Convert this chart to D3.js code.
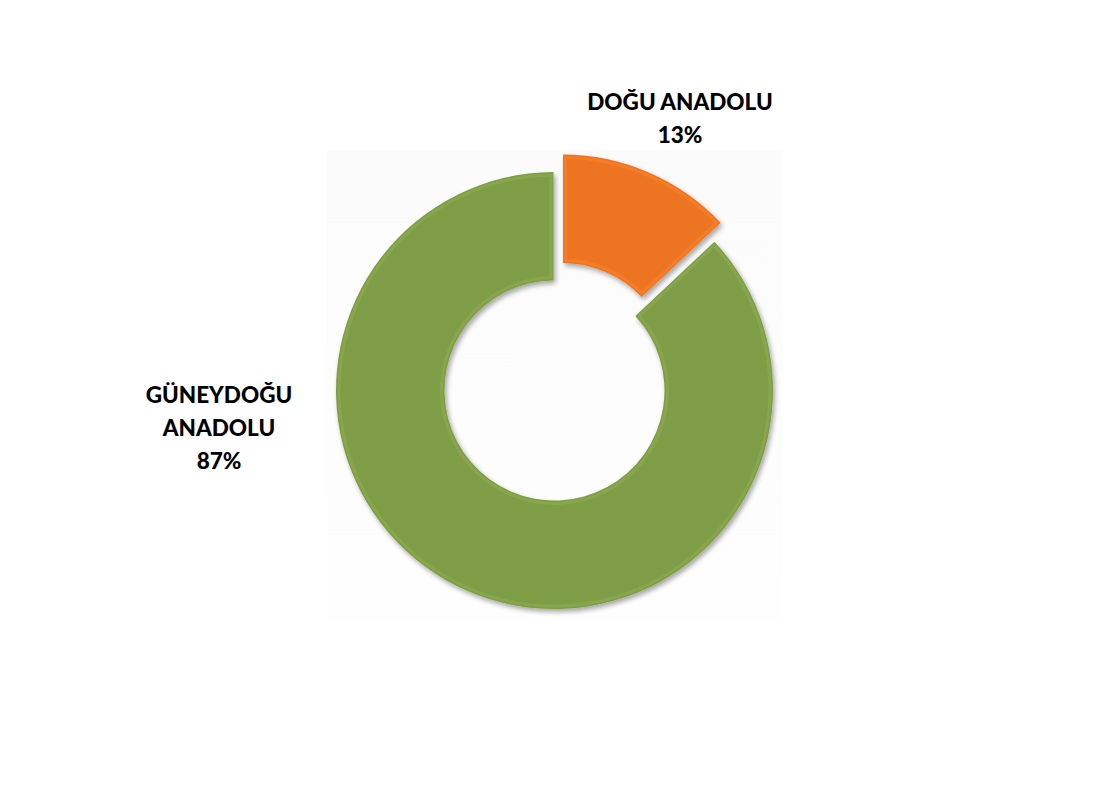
<!DOCTYPE html>
<html><head><meta charset="utf-8">
<script src="https://cdn.jsdelivr.net/npm/d3@7"></script>
<style>body{margin:0;background:#fff}svg{display:block}</style>
</head><body>
<script>
const categories = ["DOĞU ANADOLU", "GÜNEYDOĞU ANADOLU"];
const values = [13, 87];
const labelLines = [["DOĞU ANADOLU", "13%"], ["GÜNEYDOĞU", "ANADOLU", "87%"]];
const colors = ["#ED7424", "#7F9D46"];

const W = 1098, H = 798;
const svg = d3.select("body").append("svg").attr("width", W).attr("height", H);
const defs = svg.append("defs");

// plot area background
const bg = defs.append("linearGradient").attr("id","bg").attr("x1",0).attr("x2",0).attr("y1",0).attr("y2",1);
bg.append("stop").attr("offset",0).attr("stop-color","#fbfbfb");
bg.append("stop").attr("offset",1).attr("stop-color","#fefefe");
svg.append("rect").attr("x",327).attr("y",150).attr("width",455).attr("height",472).attr("fill","url(#bg)");

const cx = 554.5, cy = 390.5, rO = 218.5, rI = 110, explode = 19;

const pie = d3.pie().sort(null).value(d => d)(values);
const arc = d3.arc().innerRadius(rI).outerRadius(rO).padAngle(0.008);

const f = defs.append("filter").attr("id","sh").attr("x","-20%").attr("y","-20%").attr("width","140%").attr("height","140%");
f.append("feGaussianBlur").attr("in","SourceAlpha").attr("stdDeviation",2.5).attr("result","b");
f.append("feOffset").attr("in","b").attr("dx",2).attr("dy",3).attr("result","o");
f.append("feComponentTransfer").attr("in","o").attr("result","o2").append("feFuncA").attr("type","linear").attr("slope",0.35);
const m = f.append("feMerge"); m.append("feMergeNode").attr("in","o2"); m.append("feMergeNode").attr("in","SourceGraphic");

const g = svg.append("g").attr("transform",`translate(${cx},${cy})`);
const slices = g.selectAll("g.s").data(pie).join("g").attr("class","s")
  .attr("transform",(d,i)=>{
    if(i!==0) return null;
    const a=(d.startAngle+d.endAngle)/2;
    return `translate(${Math.sin(a)*explode},${-Math.cos(a)*explode})`;
  });
slices.append("path").attr("d",arc).attr("fill",(d,i)=>colors[i]).attr("filter","url(#sh)");
const bevel = d3.arc().innerRadius(rI+3).outerRadius(rO-3).padAngle(0.03);
slices.append("path").attr("d",bevel).attr("fill","none")
  .attr("stroke",(d,i)=>d3.color(colors[i]).brighter(0.35)).attr("stroke-width",3).attr("stroke-opacity",0.5);

const labelPos = [[680,104],[219,397]];
labelLines.forEach((lines,i)=>{
  const t = svg.append("text").attr("x",labelPos[i][0]).attr("y",labelPos[i][1])
    .attr("text-anchor","middle").attr("font-family","Lato, 'Open Sans', sans-serif")
    .attr("font-weight","900").attr("font-size",22.5).attr("fill","#000");
  lines.forEach((l,j)=>t.append("tspan").attr("x",labelPos[i][0]).attr("dy",j?33:0).attr("dominant-baseline","middle").text(l));
});
</script>
</body></html>
